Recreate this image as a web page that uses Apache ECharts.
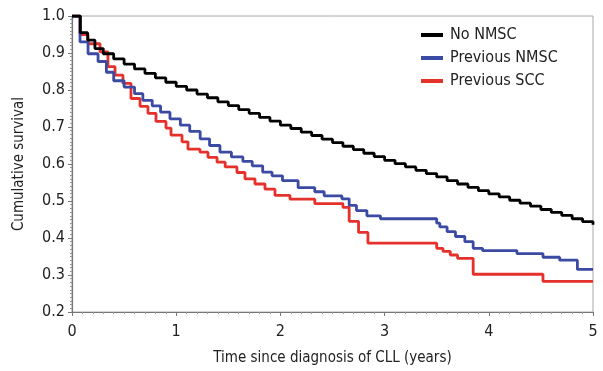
<!DOCTYPE html>
<html>
<head>
<meta charset="utf-8">
<script src="https://cdn.jsdelivr.net/npm/echarts@6/dist/echarts.min.js"></script>
<style>
html,body{margin:0;padding:0;background:#fff;}
#chart{width:603px;height:371px;}
</style>
</head>
<body>
<div id="chart"></div>
<script>
var seriesNames = ['No NMSC', 'Previous NMSC', 'Previous SCC'];
var xTicks = [0, 1, 2, 3, 4, 5];
var yTicks = [0.2, 0.3, 0.4, 0.5, 0.6, 0.7, 0.8, 0.9, 1.0];

var noNmscT = [0, 0.08, 0.15, 0.22, 0.3, 0.4, 0.5, 0.6, 0.7, 0.8, 0.9, 1.0, 1.1, 1.2, 1.3, 1.4, 1.5, 1.6, 1.7, 1.8, 1.9, 2.0, 2.1, 2.2, 2.3, 2.4, 2.5, 2.6, 2.7, 2.8, 2.9, 3.0, 3.1, 3.2, 3.3, 3.4, 3.5, 3.6, 3.7, 3.8, 3.9, 4.0, 4.1, 4.2, 4.3, 4.4, 4.5, 4.6, 4.7, 4.8, 4.9, 5.0];
var noNmscV = [1.0, 0.955, 0.935, 0.912, 0.898, 0.884, 0.87, 0.857, 0.845, 0.833, 0.821, 0.81, 0.8, 0.789, 0.779, 0.768, 0.758, 0.747, 0.737, 0.726, 0.716, 0.705, 0.696, 0.686, 0.677, 0.667, 0.658, 0.648, 0.639, 0.629, 0.62, 0.61, 0.601, 0.592, 0.583, 0.574, 0.565, 0.555, 0.546, 0.537, 0.528, 0.519, 0.511, 0.502, 0.494, 0.486, 0.477, 0.469, 0.461, 0.452, 0.444, 0.436];

var prevNmscT = [0, 0.077, 0.154, 0.25, 0.33, 0.40, 0.50, 0.60, 0.68, 0.77, 0.85, 0.94, 1.04, 1.13, 1.23, 1.32, 1.42, 1.53, 1.64, 1.73, 1.83, 1.92, 2.02, 2.17, 2.33, 2.42, 2.59, 2.66, 2.73, 2.83, 2.96, 3.5, 3.53, 3.6, 3.68, 3.77, 3.85, 3.94, 4.27, 4.52, 4.68, 4.85, 5.0];
var prevNmscV = [1.0, 0.93, 0.898, 0.877, 0.848, 0.825, 0.808, 0.79, 0.772, 0.757, 0.74, 0.722, 0.705, 0.688, 0.668, 0.65, 0.632, 0.619, 0.607, 0.595, 0.578, 0.568, 0.555, 0.536, 0.525, 0.514, 0.506, 0.488, 0.474, 0.46, 0.452, 0.44, 0.43, 0.417, 0.404, 0.39, 0.372, 0.366, 0.358, 0.348, 0.34, 0.315, 0.315];

var prevSccT = [0, 0.077, 0.154, 0.269, 0.345, 0.413, 0.489, 0.566, 0.653, 0.729, 0.806, 0.902, 0.95, 1.056, 1.113, 1.228, 1.305, 1.392, 1.47, 1.583, 1.66, 1.756, 1.852, 1.948, 2.092, 2.33, 2.6, 2.66, 2.75, 2.84, 3.5, 3.56, 3.63, 3.7, 3.85, 4.52, 5.0];
var prevSccV = [1.0, 0.95, 0.925, 0.903, 0.863, 0.84, 0.818, 0.777, 0.756, 0.737, 0.715, 0.697, 0.678, 0.66, 0.64, 0.632, 0.618, 0.605, 0.592, 0.577, 0.56, 0.546, 0.532, 0.515, 0.505, 0.493, 0.483, 0.445, 0.415, 0.386, 0.372, 0.364, 0.354, 0.345, 0.302, 0.283, 0.283];

var colors = ['#000000', '#3b4aa3', '#e5312b'];

function pairs(t, v) {
  var out = [];
  for (var i = 0; i < t.length; i++) out.push([t[i], v[i]]);
  return out;
}

var FONT = '"Liberation Sans Narrow", "DejaVu Sans Condensed", "Liberation Sans", sans-serif';

var chart = echarts.init(document.getElementById('chart'), null, {renderer: 'canvas'});
var series = [[noNmscT, noNmscV], [prevNmscT, prevNmscV], [prevSccT, prevSccV]].map(function (d, i) {
  return {
    name: seriesNames[i],
    type: 'line',
    step: 'end',
    data: pairs(d[0], d[1]),
    showSymbol: false,
    symbol: 'none',
    z: 10 - i,
    lineStyle: {color: colors[i], width: 2.8},
    itemStyle: {color: colors[i]},
    animation: false
  };
});

chart.setOption({
  animation: false,
  backgroundColor: '#ffffff',
  grid: {left: 72, right: 10, top: 16, bottom: 58, show: true, borderColor: '#a8a8a8', borderWidth: 1, backgroundColor: 'transparent'},
  legend: {
    orient: 'vertical',
    left: 416,
    top: 22,
    itemWidth: 22,
    itemHeight: 4,
    itemGap: 7,
    icon: 'rect',
    data: seriesNames,
    textStyle: {fontFamily: FONT, fontSize: 16, color: '#222', padding: [0, 0, 0, 2]}
  },
  xAxis: {
    type: 'value',
    min: xTicks[0],
    max: xTicks[xTicks.length - 1],
    interval: 1,
    name: 'Time since diagnosis of CLL (years)',
    nameLocation: 'middle',
    nameGap: 39,
    nameTextStyle: {fontFamily: FONT, fontSize: 15, color: '#222'},
    axisLine: {show: true, onZero: false, lineStyle: {color: '#777', width: 1.2}},
    axisTick: {show: true, inside: false, length: 4, lineStyle: {color: '#777'}},
    minorTick: {show: true, splitNumber: 10, length: 2, lineStyle: {color: '#999'}},
    splitLine: {show: false},
    axisLabel: {fontFamily: FONT, fontSize: 16, color: '#222', margin: 12}
  },
  yAxis: {
    type: 'value',
    min: yTicks[0],
    max: yTicks[yTicks.length - 1],
    interval: 0.1,
    name: 'Cumulative survival',
    nameLocation: 'middle',
    nameGap: 45,
    nameTextStyle: {fontFamily: FONT, fontSize: 15, color: '#222'},
    axisLine: {show: true, onZero: false, lineStyle: {color: '#777', width: 1.2}},
    axisTick: {show: true, inside: false, length: 4, lineStyle: {color: '#777'}},
    minorTick: {show: true, splitNumber: 10, length: 2, lineStyle: {color: '#999'}},
    splitLine: {show: false},
    axisLabel: {fontFamily: FONT, fontSize: 16, color: '#222', margin: 7,
      formatter: function (v) { return v.toFixed(1); }}
  },
  series: series
});
</script>
</body>
</html>
